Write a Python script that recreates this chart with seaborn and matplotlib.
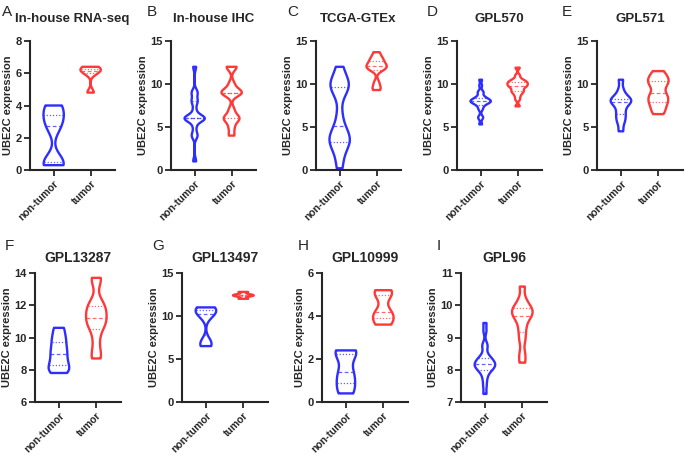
import numpy as np
import pandas as pd
import matplotlib.pyplot as plt
import seaborn as sns

# groups and colours
groups = ["non-tumor", "tumor"]
colors = ["#2E2EFF", "#FF3838"]

letters = ["A", "B", "C", "D", "E", "F", "G", "H", "I"]
titles = ["In-house RNA-seq", "In-house IHC", "TCGA-GTEx", "GPL570", "GPL571",
          "GPL13287", "GPL13497", "GPL10999", "GPL96"]
ylims = [(0, 8), (0, 15), (0, 15), (0, 15), (0, 15), (6, 14), (0, 15), (0, 6), (7, 11)]
ysteps = [2, 5, 5, 5, 5, 2, 5, 2, 1]

# expression values (normal, tumor)
a_normal = [0.3, 0.5, 2.7, 3.4, 4.0]
a_tumor = [4.8, 6.0, 6.16, 6.28, 6.4]
b_normal = [1, 4, 4, 5, 6, 6, 6, 6, 6, 6, 6, 7, 8, 8, 9, 9, 12]
b_tumor = [4, 5, 6, 6, 6, 7, 9, 9, 9, 9, 10, 12, 12]
c_normal = [0.2, 1.5, 2.5, 3.0, 3.3, 3.6, 4.0, 4.5, 5.1, 6.5, 8.5, 9.5, 9.6, 10.0, 10.3, 11.0, 12.0]
c_tumor = [9.3, 9.6, 10.2, 11.6, 11.8, 11.9, 12.06, 12.2, 12.4, 12.7, 12.9, 13.2, 13.7]
d_normal = [5.3, 6.0, 6.2, 7.0, 7.3, 7.6, 7.7, 7.8, 7.9, 8.0, 8.0, 8.0, 8.1, 8.2, 8.3, 8.4,
            8.6, 9.0, 9.1, 9.8, 10.5]
d_tumor = [7.4, 8.2, 8.6, 8.9, 9.1, 9.2, 9.4, 9.6, 9.7, 9.8, 9.9, 10.0, 10.1, 10.2, 10.3,
           10.4, 10.6, 11.0, 11.9]
e_normal = [4.5, 5.5, 6.0, 6.5, 7.0, 7.6, 7.9, 8.0, 8.1, 8.3, 8.6, 9.3, 10.5]
e_tumor = [6.5, 7.0, 7.5, 7.9, 8.2, 8.6, 8.9, 9.6, 10.0, 10.36, 10.6, 11.0, 11.5]
f_normal = [7.8, 8.0, 8.29, 8.6, 8.97, 9.3, 9.7, 10.1, 10.6]
f_tumor = [8.7, 9.0, 9.8, 10.53, 10.8, 11.0, 11.24, 11.5, 11.8, 11.93, 12.3, 13.5, 13.7]
g_normal = [6.5, 7.0, 10.0, 10.5, 10.8, 11.0]
g_tumor = [12.0, 12.3, 12.4, 12.5, 12.8]
h_normal = [0.4, 0.9, 1.41, 2.23, 2.4]
h_tumor = [3.6, 3.92, 4.19, 4.97, 5.2]
i_normal = [7.25, 7.5, 7.7, 7.85, 7.95, 8.0, 8.05, 8.1, 8.1, 8.15, 8.19, 8.2, 8.25, 8.3,
            8.35, 8.37, 8.5, 8.7, 8.8, 9.2, 9.45]
i_tumor = [8.22, 8.5, 8.9, 9.17, 9.4, 9.6, 9.67, 9.75, 9.85, 9.9, 10.0, 10.2, 10.58]

panels = [(a_normal, a_tumor), (b_normal, b_tumor), (c_normal, c_tumor),
          (d_normal, d_tumor), (e_normal, e_tumor), (f_normal, f_tumor),
          (g_normal, g_tumor), (h_normal, h_tumor), (i_normal, i_tumor)]
bws = [0.45, 0.3, 0.45, 0.35, 0.5, 0.5, 0.45, 0.6, 0.4]

sns.set_style("ticks")
plt.rcParams["font.family"] = ["Liberation Sans", "DejaVu Sans"]
plt.rcParams["font.weight"] = "bold"

W, H = 685, 455
fig = plt.figure(figsize=(W / 100, H / 100), dpi=100)

# axes boxes in pixels: left, top, width, bottom
boxes = [(30, 41, 85, 170), (171, 41, 85, 170), (316, 41, 85, 170), (457, 41, 85, 170),
         (597, 41, 86, 170), (35, 273, 86, 402), (182, 273, 86, 402), (322, 273, 86, 402),
         (461, 273, 86, 402)]
letter_pos = [(2, 12), (147, 12), (287, 12), (427, 12), (562, 12),
              (5, 246), (152, 246), (298, 246), (437, 246)]

for k in range(9):
    l, t, w, b = boxes[k]
    ax = fig.add_axes([l / W, 1 - b / H, w / W, (b - t) / H])
    for j, vals in enumerate(panels[k]):
        df = pd.DataFrame({"group": [groups[j]] * len(vals), "value": vals})
        sns.violinplot(data=df, x="group", y="value", order=groups,
                       color=colors[j], fill=False, cut=0,
                       inner="quart", density_norm="width", width=0.55,
                       bw_adjust=bws[k], linewidth=1.7, ax=ax,
                       inner_kws={"linewidth": 0.9, "color": colors[j]})
    # quartiles dotted, median dashed (lines come as q1, median, q3 per violin)
    for i, ln in enumerate(ax.lines):
        if i % 3 == 1:
            ln.set_linestyle((0, (3, 2)))
        else:
            ln.set_linestyle((0, (1, 1.5)))
        ln.set_alpha(0.75)
    lo, hi = ylims[k]
    ax.set_ylim(lo, hi)
    ax.set_yticks(np.arange(lo, hi + 0.01, ysteps[k]))
    ax.set_xlim(-0.64, 1.66)
    ax.set_xlabel("")
    ax.set_ylabel("UBE2C expression", fontsize=8, fontweight="bold", labelpad=2)
    ax.set_title(titles[k], fontsize=9.5 if k < 5 else 10, fontweight="bold",
                 pad=14 if k < 5 else 8)
    sns.despine(ax=ax)
    for s in ["left", "bottom"]:
        ax.spines[s].set_linewidth(1.5)
    ax.tick_params(width=1.3, length=4, labelsize=8, pad=2)
    ax.set_xticks([0, 1])
    ax.set_xticklabels(groups, rotation=45, ha="right", rotation_mode="anchor",
                       fontsize=7.5)
    fig.text(letter_pos[k][0] / W, 1 - letter_pos[k][1] / H, letters[k],
             fontsize=11, fontweight="normal", va="center", ha="left")

fig.savefig("out.png", dpi=100)
